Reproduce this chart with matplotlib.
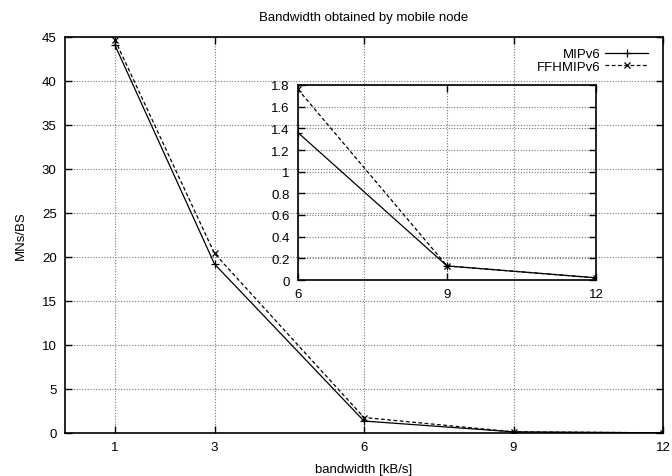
import matplotlib
matplotlib.use("Agg")
import matplotlib.pyplot as plt

plt.rcParams['font.family'] = ['Liberation Sans', 'DejaVu Sans']

x = [1, 3, 6, 9, 12]
mipv6 = [44.1, 19.2, 1.36, 0.13, 0.02]
ffhmipv6 = [44.7, 20.4, 1.76, 0.13, 0.02]

inset_x = [6, 9, 12]
inset_mipv6 = [1.36, 0.13, 0.02]
inset_ffh = [1.76, 0.13, 0.02]

main_xticks = [1, 3, 6, 9, 12]
main_yticks = [0, 5, 10, 15, 20, 25, 30, 35, 40, 45]
inset_xticks = [6, 9, 12]
inset_yticks = [0, 0.2, 0.4, 0.6, 0.8, 1, 1.2, 1.4, 1.6, 1.8]

fig = plt.figure(figsize=(6.72, 4.77), dpi=100)
ax = fig.add_axes([65/672, 1-434/477, (663-65)/672, (434-38)/477])

grid_kw = dict(color='#777777', linestyle=(0, (1, 1.5)), linewidth=0.8)
fs = 9.5

def style(a):
    for s in a.spines.values():
        s.set_linewidth(1.2)
        s.set_zorder(5)
    a.tick_params(direction='in', length=5, width=1.0, top=True, right=True,
                  labelsize=fs, pad=6)

ax.plot(x, mipv6, color='black', lw=0.9, marker='+', ms=6, mew=0.9, label='MIPv6', zorder=3)
ax.plot(x, ffhmipv6, color='black', lw=0.9, ls=(0, (3, 2)), marker='x', ms=5, mew=0.9,
        label='FFHMIPv6', zorder=3)
ax.set_xlim(0, 12)
ax.set_ylim(0, 45)
ax.set_xticks(main_xticks)
ax.set_yticks(main_yticks)
ax.set_yticklabels([str(v) for v in main_yticks])
ax.grid(True, **grid_kw)
ax.set_axisbelow(True)
style(ax)
ax.set_xlabel('bandwidth [kB/s]', fontsize=fs, labelpad=7)
ax.set_ylabel('MNs/BS', fontsize=fs, labelpad=11)
ax.set_title('Bandwidth obtained by mobile node', fontsize=fs, pad=12)

leg = ax.legend(loc='upper right', markerfirst=False, frameon=False, fontsize=fs,
                handlelength=3.3, handletextpad=0.3, labelspacing=0.0,
                borderaxespad=0.3, bbox_to_anchor=(0.991, 0.995))

ins = fig.add_axes([298/672, 1-281/477, (596-298)/672, (281-86)/477])
ins.set_facecolor('none')
ins.plot(inset_x, inset_mipv6, color='black', lw=0.9, marker='+', ms=6, mew=0.9, zorder=3)
ins.plot(inset_x, inset_ffh, color='black', lw=0.9, ls=(0, (3, 2)), marker='x', ms=5, mew=0.9, zorder=3)
ins.set_xlim(6, 12)
ins.set_ylim(0, 1.8)
ins.set_xticks(inset_xticks)
ins.set_yticks(inset_yticks)
ins.set_yticklabels(['0', '0.2', '0.4', '0.6', '0.8', '1', '1.2', '1.4', '1.6', '1.8'])
ins.grid(True, **grid_kw)
style(ins)

fig.savefig('out.png', dpi=100)
